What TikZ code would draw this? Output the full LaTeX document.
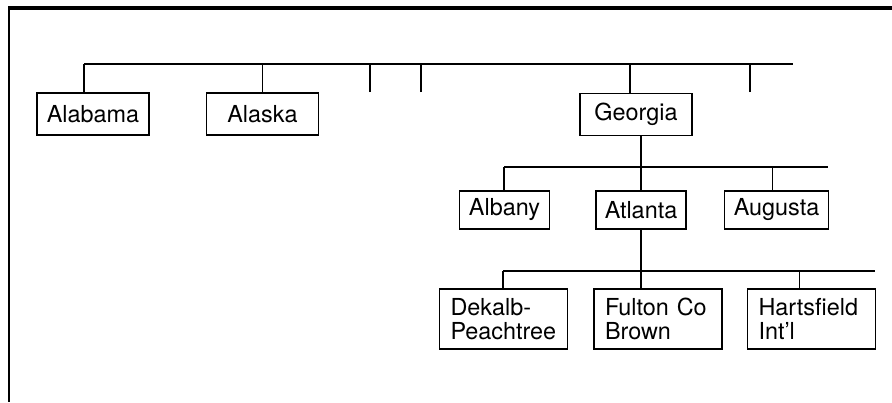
\documentclass[tikz,border=0pt]{standalone}
\usepackage{fontspec}
\setmainfont{TeX Gyre Heros}
\usepackage{tikz}
\usetikzlibrary{positioning}

\begin{document}
\begin{tikzpicture}[
  x=1pt, y=-1pt, font=\fontsize{23.4}{23.5}\selectfont, line width=1.5pt,
  state/.style={draw, minimum width=112pt, minimum height=42pt, inner sep=0pt},
  city/.style ={draw, minimum height=38pt, inner sep=0pt},
  port/.style ={draw, align=left, text width=106pt, inner xsep=11pt, minimum height=60pt, inner ysep=0pt}]
\useasboundingbox (0,0) rectangle (892,402);
\draw[line width=3.3pt] (8,8) -- (892,8);
\draw[line width=2pt] (9,8) -- (9,402);
\node[state] (ala) at (93,114) {Alabama};
\node[state, right=56pt of ala] (alk) {Alaska};
\node[state] (geo) at (636,114.5) {Georgia};
\node[city, minimum width=90pt] (atl) at (641,210) {Atlanta};
\node[city, minimum width=90pt, left=45pt of atl] (alb) {Albany};
\node[city, minimum width=104pt, right=37pt of atl] (aug) {Augusta};
\node[port] (ful) at (658,319) {Fulton Co\\Brown};
\node[port, left=25pt of ful] (dek) {Dekalb-\\Peachtree};
\node[port, right=24pt of ful] (har) {Hartsfield\\Int'l};
\coordinate (bus1w) at (84,64); \coordinate (bus1e) at (793,64);
\coordinate (bus2w) at (504,167); \coordinate (bus2e) at (828,167);
\coordinate (bus3w) at (503,271); \coordinate (bus3e) at (875,271);
\coordinate (s1) at (370,92); \coordinate (s2) at (421,92); \coordinate (s3) at (750,92);
\draw (bus1w)--(bus1e); \draw (bus2w)--(bus2e); \draw (bus3w)--(bus3e);
\draw (bus1w)--(bus1w |- ala.north); \draw (alk.north)--(alk.north |- bus1w);
\draw ([xshift=-6pt]geo.north)--([xshift=-6pt]geo.north |- bus1w);
\draw (s1)--(s1 |- bus1w); \draw (s2)--(s2 |- bus1w); \draw (s3)--(s3 |- bus1w);
\draw (geo.south -| atl)--(atl.north);
\draw (bus2w)--(bus2w |- alb.north); \draw ([xshift=-4pt]aug.north)--([xshift=-4pt]aug.north |- bus2w);
\draw (atl.south)--(atl.south |- ful.north);
\draw (bus3w)--(bus3w |- dek.north); \draw ([xshift=-12pt]har.north)--([xshift=-12pt]har.north |- bus3w);
\end{tikzpicture}
\end{document}
